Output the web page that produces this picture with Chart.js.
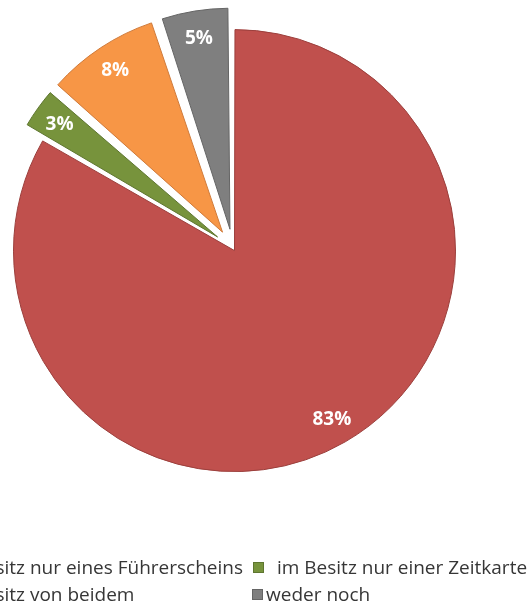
<!DOCTYPE html>
<html>
<head>
<meta charset="utf-8">
<script src="https://cdn.jsdelivr.net/npm/chart.js@4.4.1/dist/chart.umd.min.js"></script>
<style>
  html, body { margin: 0; padding: 0; background: #ffffff; overflow: hidden; }
  #wrap { position: relative; width: 528px; height: 616px; }
</style>
</head>
<body>
<div id="wrap"><canvas id="c" width="528" height="616"></canvas></div>
<script>
// Survey answers: what people own (share of respondents, %)
const categories = [
  'im Besitz nur eines Führerscheins',
  'im Besitz nur einer Zeitkarte',
  'im Besitz von beidem',
  'weder noch'
];
const shares = [83.3, 3.2, 8.4, 5.1];
const sliceColors = ['#C0504D', '#77933C', '#F79646', '#7F7F7F'];
const edgeColors = ['#9B3F3C', '#5E7630', '#CF7A3A', '#656565'];
// how far each slice is pulled out of the pie, in px
const explode = [3, 19, 19, 19];

const PIE_RADIUS = 221;

// Chart.js moves an arc by offset/4 and also widens it a little;
// undo the widening so every slice keeps the same radius.
const keepRadius = {
  id: 'keepRadius',
  afterDatasetUpdate(chart, args) {
    args.meta.data.forEach((arc, i) => {
      const fix = 1 - Math.sin(Math.min(Math.PI, arc.circumference));
      arc.outerRadius = PIE_RADIUS - explode[i] * fix;
    });
  }
};

// percentage labels inside each slice
const sliceLabels = {
  id: 'sliceLabels',
  afterDatasetsDraw(chart) {
    const ctx = chart.ctx;
    const meta = chart.getDatasetMeta(0);
    ctx.save();
    ctx.font = 'bold 19px "Open Sans"';
    ctx.fillStyle = '#ffffff';
    ctx.textAlign = 'center';
    ctx.textBaseline = 'alphabetic';
    meta.data.forEach((arc, i) => {
      const mid = (arc.startAngle + arc.endAngle) / 2;
      const d = explode[i] + PIE_RADIUS * 0.88;
      ctx.fillText(Math.round(shares[i]) + '%',
        arc.x + Math.cos(mid) * d, arc.y + Math.sin(mid) * d + 6.5);
    });
    ctx.restore();
  }
};

// two-column legend under the pie
const gridLegend = {
  id: 'gridLegend',
  afterDraw(chart) {
    const ctx = chart.ctx;
    ctx.save();
    ctx.font = '19px "Open Sans"';
    ctx.textBaseline = 'alphabetic';
    ctx.textAlign = 'left';
    const rows = [574, 601];
    const firstColEnd = 243;
    const firstColText = firstColEnd - ctx.measureText(categories[0]).width;
    const items = [
      { text: firstColText, box: firstColText - 24, row: 0 },
      { text: 277, box: 253, row: 0 },
      { text: firstColText, box: firstColText - 24, row: 1 },
      { text: 266, box: 252, row: 1 }
    ];
    items.forEach((it, i) => {
      const base = rows[it.row];
      ctx.fillStyle = sliceColors[i];
      ctx.fillRect(it.box, base - 12, 11, 11);
      ctx.strokeStyle = edgeColors[i];
      ctx.lineWidth = 1;
      ctx.strokeRect(it.box + 0.5, base - 11.5, 10, 10);
      ctx.fillStyle = '#363636';
      ctx.fillText(categories[i], it.text, base);
    });
    ctx.restore();
  }
};

new Chart(document.getElementById('c'), {
  type: 'pie',
  data: {
    labels: categories,
    datasets: [{
      data: shares,
      backgroundColor: sliceColors,
      borderColor: edgeColors,
      borderWidth: 1,
      offset: explode.map(v => v * 4),
      radius: PIE_RADIUS
    }]
  },
  options: {
    responsive: false,
    devicePixelRatio: 1,
    animation: false,
    events: [],
    layout: { padding: { left: 0, right: 62, top: 0, bottom: 120 } },
    plugins: {
      legend: { display: false },
      tooltip: { enabled: false }
    }
  },
  plugins: [keepRadius, sliceLabels, gridLegend]
});
</script>
</body>
</html>
